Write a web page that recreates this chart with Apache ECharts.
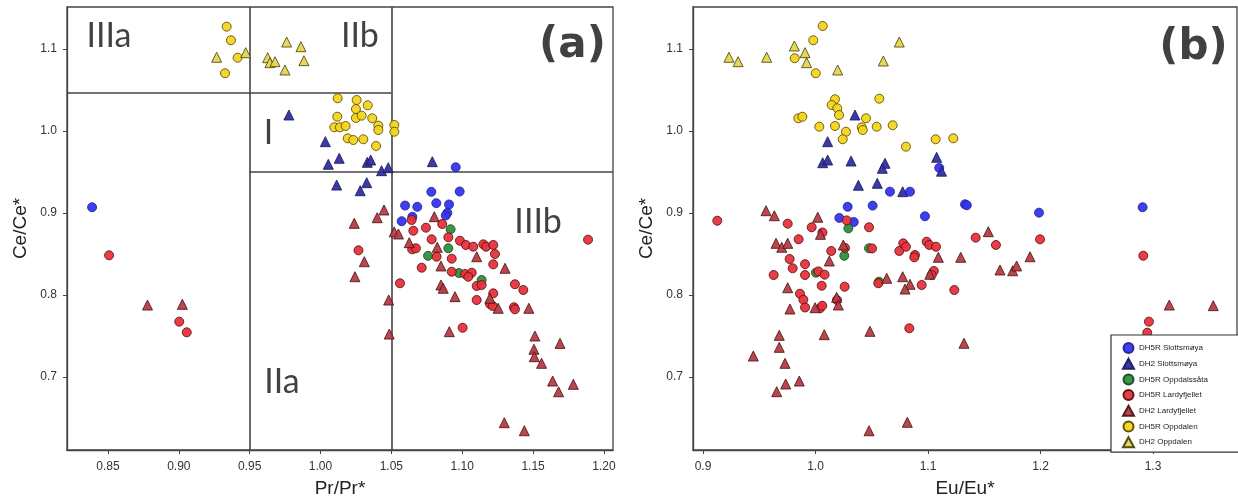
<!DOCTYPE html>
<html>
<head>
<meta charset="utf-8">
<script src="https://cdn.jsdelivr.net/npm/echarts@6/dist/echarts.min.js"></script>
<style>
html,body{margin:0;padding:0;background:#fff;}
#chart{width:1238px;height:499px;}
</style>
</head>
<body>
<div id="chart"></div>
<script>
// ---------- tick labels ----------
const prTicks = [0.85, 0.90, 0.95, 1.00, 1.05, 1.10, 1.15, 1.20];
const euTicks = [0.9, 1.0, 1.1, 1.2, 1.3];
const ceTicks = [0.7, 0.8, 0.9, 1.0, 1.1];

// ---------- series names ----------
const seriesNames = ['DH5R Slottsmøya', 'DH2 Slottsmøya', 'DH5R Oppdalssåta', 'DH5R Lardyfjellet', 'DH2 Lardyfjellet', 'DH5R Oppdalen', 'DH2 Oppdalen'];

// ---------- panel (a): [Pr/Pr*, Ce/Ce*] ----------
const a_DH5R_Slottsmoya = [[0.8388,0.907],[1.0954,0.9558],[1.0782,0.9258],[1.0982,0.9262],[1.0817,0.912],[1.0907,0.9104],[1.0597,0.9091],[1.0683,0.9075],[1.0573,0.890],[1.0648,0.8954],[1.0895,0.9002],[1.0884,0.897]];
const a_DH2_Slottsmoya = [[0.9777,1.0195],[1.0034,0.987],[1.0055,0.9594],[1.0132,0.9667],[1.033,0.9618],[1.0354,0.9646],[1.0431,0.9516],[1.0478,0.9553],[1.0114,0.9341],[1.0326,0.937],[1.028,0.9272],[1.0789,0.9626]];
const a_DH5R_Oppdalssata = [[1.0918,0.8802],[1.0902,0.857],[1.0759,0.8478],[1.0977,0.8268],[1.1137,0.8183]];
const a_DH5R_Lardyfjellet = [[0.8508,0.8484],[0.9003,0.7675],[0.9056,0.7545],[1.1888,0.8675],[1.0268,0.8545],[1.1003,0.7601],[1.0561,0.8143],
  [1.0643,0.8915],[1.0655,0.8784],[1.0744,0.8821],[1.0859,0.8866],[1.0784,0.8679],[1.0902,0.8704],[1.0647,0.8557],[1.0673,0.857],
  [1.0984,0.8662],[1.1026,0.861],[1.1078,0.8589],[1.1149,0.8618],[1.1168,0.8589],[1.1219,0.861],[1.1231,0.85],[1.1219,0.8374],
  [1.0819,0.8467],[1.0926,0.8443],[1.0714,0.8333],[1.0926,0.8284],[1.102,0.8256],[1.1067,0.8272],[1.1043,0.8223],[1.1102,0.811],
  [1.1137,0.8122],[1.1372,0.8131],[1.1431,0.8061],[1.1219,0.802],[1.1102,0.7939],[1.1196,0.789],[1.1215,0.7866],[1.1365,0.785],[1.1372,0.7826]];
const a_DH2_Lardyfjellet = [[0.8779,0.7878],[0.9025,0.7886],[1.0448,0.9037],[1.04,0.8943],[1.0238,0.8874],[1.052,0.877],[1.055,0.8744],
  [1.0309,0.8406],[1.0243,0.8223],[1.0803,0.8955],[1.0626,0.8638],[1.0824,0.8582],[1.085,0.8354],[1.1102,0.8467],[1.1302,0.8326],
  [1.085,0.8122],[1.0866,0.8082],[1.0949,0.798],[1.0481,0.7939],[1.0485,0.7524],[1.0909,0.7553],[1.1254,0.7838],[1.147,0.7838],
  [1.1513,0.75],[1.1506,0.7338],[1.1509,0.7248],[1.156,0.7167],[1.169,0.741],[1.1638,0.6951],[1.168,0.682],[1.1784,0.6911],
  [1.1297,0.6443],[1.1438,0.6345],[1.1195,0.796]];
const a_DH5R_Oppdalen = [[0.9338,1.1272],[0.9368,1.1106],[0.9415,1.0894],[0.9326,1.0704],
  [1.0121,1.0399],[1.0255,1.0378],[1.0333,1.0313],[1.025,1.0268],[1.0118,1.0174],[1.025,1.0159],[1.029,1.0187],[1.0365,1.0155],
  [1.0408,1.0065],[1.0408,1.0012],[1.0097,1.0045],[1.0137,1.0045],[1.0177,1.0061],[1.0521,1.0073],[1.0521,0.9991],[1.0192,0.9911],
  [1.0231,0.989],[1.0302,0.9899],[1.0392,0.9817]];
const a_DH2_Oppdalen = [[0.9267,1.0899],[0.9472,1.0955],[0.9627,1.0894],[0.9643,1.0833],[0.9679,1.0845],[0.9749,1.0744],[0.9761,1.1085],[0.9862,1.1028],[0.9883,1.0857]];

// ---------- panel (b): [Eu/Eu*, Ce/Ce*] ----------
const b_DH5R_Slottsmoya = [[1.0212,0.894],[1.0286,0.9076],[1.034,0.889],[1.0508,0.909],[1.0662,0.926],[1.084,0.926],[1.0973,0.896],[1.1329,0.9106],[1.1345,0.9095],[1.1987,0.9004],[1.2908,0.907],[1.110,0.955]];
const b_DH2_Slottsmoya = [[1.0351,1.0195],[1.0108,0.987],[1.0064,0.9613],[1.0108,0.9646],[1.0316,0.9634],[1.0618,0.9606],[1.0594,0.9545],[1.0381,0.9338],[1.0549,0.9362],[1.0775,0.926],[1.1077,0.9679],[1.112,0.951]];
const b_DH5R_Oppdalssata = [[1.0292,0.8813],[1.0256,0.8479],[1.0004,0.8272],[1.0476,0.857],[1.0564,0.8162]];
const b_DH5R_Lardyfjellet = [[0.9127,0.8906],[0.9753,0.887],[0.9966,0.8826],[1.0062,0.8762],[0.985,0.868],[1.014,0.8537],[1.0262,0.8575],[1.0476,0.8826],
  [1.0503,0.8568],[0.977,0.8439],[0.9797,0.8326],[0.9907,0.8376],[0.9907,0.8244],[0.9628,0.8244],[1.0025,0.8288],[1.0081,0.8248],
  [1.0055,0.8113],[1.0259,0.8101],[0.9862,0.8016],[0.9892,0.7943],[0.9907,0.7848],[1.004,0.7838],[1.006,0.7869],[1.0191,0.7939],
  [1.0745,0.8537],[1.078,0.863],[1.0804,0.8589],[1.0884,0.8488],[1.0878,0.846],[1.0988,0.865],[1.1012,0.861],[1.1071,0.8589],
  [1.1052,0.8293],[1.1033,0.8244],[1.0944,0.8122],[1.0558,0.8143],[1.0834,0.7594],[1.1234,0.8061],[1.1424,0.8699],[1.1604,0.861],
  [1.1996,0.8679],[1.2914,0.8479],[1.2964,0.7675],[1.2949,0.754],[1.0277,0.891]];
const b_DH2_Lardyfjellet = [[0.956,0.9028],[0.9634,0.8967],[1.002,0.8948],[1.0044,0.874],[0.9649,0.863],[0.97,0.8582],[0.9753,0.863],[1.0123,0.8415],
  [0.9753,0.8089],[0.9773,0.7829],[1.0188,0.7972],[1.0203,0.7878],[0.9996,0.7845],[1.0247,0.861],[1.0484,0.7557],[1.0078,0.7516],
  [0.9678,0.7508],[0.9678,0.7362],[0.9447,0.7256],[0.9729,0.7167],[0.9655,0.6821],[0.9735,0.6915],[0.9856,0.6951],[1.0476,0.6345],
  [1.0816,0.6448],[1.0633,0.8204],[1.0775,0.8223],[1.084,0.813],[1.0796,0.8073],[1.1092,0.846],[1.1016,0.8253],[1.1536,0.8772],
  [1.1291,0.846],[1.164,0.8305],[1.1753,0.8296],[1.1788,0.8354],[1.1907,0.8467],[1.3145,0.7878],[1.3536,0.787],[1.132,0.7411]];
const b_DH5R_Oppdalen = [[1.0064,1.128],[0.998,1.1106],[0.9815,1.0887],[1.0002,1.0704],[1.0173,1.0387],[1.0144,1.0317],[1.0194,1.0277],[1.0209,1.0195],
  [0.9847,1.0155],[0.9883,1.0174],[1.0034,1.0052],[1.0173,1.0061],[1.0411,1.0045],[1.042,1.0012],[1.0449,1.0155],[1.0544,1.0052],
  [1.0686,1.007],[1.0271,0.9991],[1.0242,0.9899],[1.0567,1.0394],[1.0804,0.9809],[1.1068,0.9899],[1.1225,0.9911]];
const b_DH2_Oppdalen = [[0.9231,1.0899],[0.9312,1.0845],[0.9566,1.0899],[0.9812,1.1037],[0.9907,1.0955],[0.9921,1.0833],[1.0197,1.0744],[1.0603,1.0854],[1.0745,1.1085]];

// ---------- region boundaries & labels of panel (a) ----------
const regionBoundaries = [
  [[0.95, 0.611], [0.95, 1.1512]],
  [[1.05, 0.611], [1.05, 1.1512]],
  [[0.8211, 1.047], [1.05, 1.047]],
  [[0.95, 0.95], [1.2064, 0.95]]
];
const regionLabels = [['IIIa', 0.8507, 1.1159], ['IIb', 1.0278, 1.1159], ['I', 0.9633, 0.998], ['IIIb', 1.1535, 0.889], ['IIa', 0.9728, 0.694]];
const panelLabels = [['(a)', 0, 1.1778, 1.103], ['(b)', 1, 1.336, 1.1006]];

// ---------- styles ----------
const styles = [
  {symbol: 'circle', size: 9, color: '#3434f2', border: '#24248a'},
  {symbol: 'triangle', size: 10, color: '#2f2fa3', border: '#1c1c5c'},
  {symbol: 'circle', size: 9, color: '#2f8f3c', border: '#1b4a20'},
  {symbol: 'circle', size: 9, color: '#e8323c', border: '#561010'},
  {symbol: 'triangle', size: 10, color: '#b73c46', border: '#4a1616'},
  {symbol: 'circle', size: 9, color: '#f3d51e', border: '#5a4a00'},
  {symbol: 'triangle', size: 10, color: '#e7d44e', border: '#4a4512'}
];
const panelA = [a_DH5R_Slottsmoya, a_DH2_Slottsmoya, a_DH5R_Oppdalssata, a_DH5R_Lardyfjellet, a_DH2_Lardyfjellet, a_DH5R_Oppdalen, a_DH2_Oppdalen];
const panelB = [b_DH5R_Slottsmoya, b_DH2_Slottsmoya, b_DH5R_Oppdalssata, b_DH5R_Lardyfjellet, b_DH2_Lardyfjellet, b_DH5R_Oppdalen, b_DH2_Oppdalen];

const axisColor = '#444';
const font = 'Liberation Sans, Arial, sans-serif';

function xAxisCfg(idx, min, max, ticks, digits, name) {
  return {
    type: 'value', gridIndex: idx, min: min, max: max,
    name: name, nameLocation: 'middle', nameGap: 29,
    nameTextStyle: {fontSize: 19, color: '#222', fontFamily: font},
    axisLine: {show: true, lineStyle: {color: axisColor, width: 1.3}},
    axisTick: {show: true, inside: false, length: 4, lineStyle: {color: axisColor}, customValues: ticks},
    axisLabel: {show: true, margin: 11, fontSize: 12, color: '#333', fontFamily: font, customValues: ticks,
      formatter: v => Number(v).toFixed(digits)},
    splitLine: {show: false}
  };
}
function yAxisCfg(idx) {
  return {
    type: 'value', gridIndex: idx, min: 0.611, max: 1.1512,
    name: 'Ce/Ce*', nameLocation: 'middle', nameGap: 37,
    nameTextStyle: {fontSize: 19, color: '#222', fontFamily: font},
    axisLine: {show: true, lineStyle: {color: axisColor, width: 1.3}},
    axisTick: {show: true, inside: false, length: 4, lineStyle: {color: axisColor}, customValues: ceTicks},
    axisLabel: {show: true, margin: 10, fontSize: 12, color: '#333', fontFamily: font, customValues: ceTicks,
      formatter: v => Number(v).toFixed(1)},
    splitLine: {show: false}
  };
}

const series = [];
[panelA, panelB].forEach((panel, gi) => {
  panel.forEach((data, i) => {
    const s = styles[i];
    series.push({
      name: seriesNames[i], type: 'scatter', xAxisIndex: gi, yAxisIndex: gi,
      symbol: s.symbol, symbolSize: s.size, data: data,
      itemStyle: {color: s.color, borderColor: s.border, borderWidth: 0.9, opacity: 0.95}
    });
  });
});
series.push({
  type: 'lines', coordinateSystem: 'cartesian2d', xAxisIndex: 0, yAxisIndex: 0, silent: true,
  data: regionBoundaries.map(c => ({coords: c})),
  lineStyle: {color: '#444', width: 1.6, opacity: 1}, z: 1
});
series.push({
  type: 'scatter', xAxisIndex: 0, yAxisIndex: 0, silent: true, symbolSize: 1,
  itemStyle: {color: 'rgba(0,0,0,0)'},
  data: regionLabels.map(r => ({value: [r[1], r[2]], name: r[0]})),
  label: {show: true, position: 'inside', formatter: p => p.name, fontSize: 34, color: '#111', fontFamily: 'Lato, Open Sans, sans-serif'}
});
panelLabels.forEach(p => {
  series.push({
    type: 'scatter', xAxisIndex: p[1], yAxisIndex: p[1], silent: true, symbolSize: 1,
    itemStyle: {color: 'rgba(0,0,0,0)'},
    data: [{value: [p[2], p[3]], name: p[0]}],
    label: {show: true, position: 'inside', formatter: q => q.name, fontSize: 42, fontWeight: 'bold', color: '#111', fontFamily: 'DejaVu Sans, sans-serif'}
  });
});

const chart = echarts.init(document.getElementById('chart'), null, {renderer: 'canvas'});
chart.setOption({
  animation: false,
  backgroundColor: '#fff',
  grid: [
    {left: 67, top: 7, width: 546, height: 443, outerBoundsMode: 'none', containLabel: false, show: true, borderColor: axisColor, borderWidth: 1.3, backgroundColor: '#fff'},
    {left: 693, top: 7, width: 544, height: 443, outerBoundsMode: 'none', containLabel: false, show: true, borderColor: axisColor, borderWidth: 1.3, backgroundColor: '#fff'}
  ],
  xAxis: [xAxisCfg(0, 0.8211, 1.2064, prTicks, 2, 'Pr/Pr*'), xAxisCfg(1, 0.8911, 1.3747, euTicks, 1, 'Eu/Eu*')],
  yAxis: [yAxisCfg(0), yAxisCfg(1)],
  legend: {
    data: seriesNames.map((n, i) => ({name: n, icon: styles[i].symbol})),
    orient: 'vertical', left: 1111, top: 335,
    itemWidth: 11, itemHeight: 10, itemGap: 3.7,
    padding: [7, 40, 4, 11],
    borderColor: '#333', borderWidth: 1.2, backgroundColor: '#fff',
    textStyle: {fontSize: 8, color: '#222', fontFamily: font},
    selectedMode: false
  },
  series: series
});
</script>
</body>
</html>
